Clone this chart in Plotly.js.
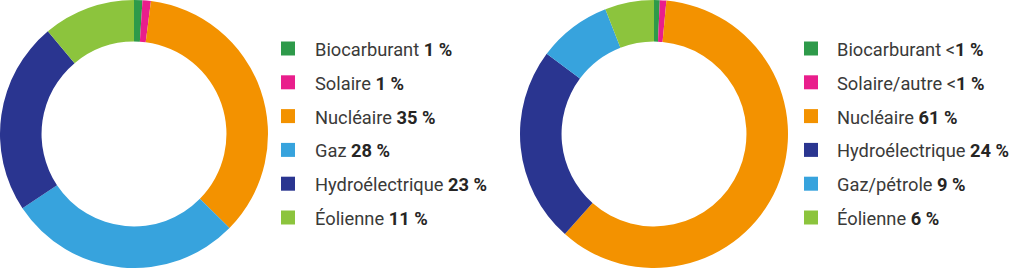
<!DOCTYPE html>
<html>
<head>
<meta charset="utf-8">
<script src="https://cdn.plot.ly/plotly-3.0.1.min.js"></script>
<style>
  html, body { margin: 0; padding: 0; background: #ffffff; }
  #chart { width: 1024px; height: 268px; }
</style>
</head>
<body>
<div id="chart"></div>
<script>
// ---- Data ----
const labelsLeft = ['Biocarburant', 'Solaire', 'Nucléaire', 'Gaz', 'Hydroélectrique', 'Éolienne'];
const valuesLeft = [1, 1, 35, 28, 23, 11];
const pctLeft = ['1 %', '1 %', '35 %', '28 %', '23 %', '11 %'];

const labelsRight = ['Biocarburant', 'Solaire/autre', 'Nucléaire', 'Hydroélectrique', 'Gaz/pétrole', 'Éolienne'];
const valuesRight = [0.7, 0.8, 61, 24, 9, 6];
const pctRight = ['<1 %', '<1 %', '61 %', '24 %', '9 %', '6 %'];

// ---- Styles ----
const C = {
  bio: '#2e9a4a', sol: '#e91e8c', nuc: '#f39200', gaz: '#37a3dd', hyd: '#2a3590', eol: '#8cc43d'
};
const colorsLeft = [C.bio, C.sol, C.nuc, C.gaz, C.hyd, C.eol];
const colorsRight = [C.bio, C.sol, C.nuc, C.hyd, C.gaz, C.eol];

const W = 1024, H = 268;
const FONT = 'Roboto, "Open Sans", sans-serif';
const TEXT_COLOR = '#3a3a39';
const BOLD_COLOR = '#262524';

function pie(labels, values, colors, x0, x1) {
  return {
    type: 'pie',
    labels: labels,
    values: values,
    marker: { colors: colors, line: { width: 0 } },
    hole: 0.69,
    sort: false,
    direction: 'clockwise',
    rotation: 0,
    textinfo: 'none',
    hoverinfo: 'label+percent',
    showlegend: false,
    domain: { x: [x0 / W, x1 / W], y: [0, 1] }
  };
}

function legendItems(labels, pcts, colors, sqX, txtX) {
  const rowY0 = 48.5, rowStep = 33.8, sq = 14;
  const shapes = [], annotations = [];
  labels.forEach((lab, i) => {
    const cy = rowY0 + i * rowStep;
    shapes.push({
      type: 'rect', xref: 'paper', yref: 'paper',
      x0: sqX / W, x1: (sqX + sq) / W,
      y0: 1 - (cy + sq / 2) / H, y1: 1 - (cy - sq / 2) / H,
      fillcolor: colors[i], line: { width: 0 }
    });
    let p = pcts[i];
    let pre = '';
    if (p.startsWith('<')) { pre = '&lt;'; p = p.slice(1); }
    annotations.push({
      xref: 'paper', yref: 'paper',
      x: txtX / W, y: 1 - (cy + 1) / H,
      xanchor: 'left', yanchor: 'middle',
      showarrow: false, borderpad: 0,
      text: lab + ' ' + pre + '<span style="color:' + BOLD_COLOR + '"><b>' + p + '</b></span>',
      font: { family: FONT, size: 18.3, color: TEXT_COLOR }
    });
  });
  return { shapes, annotations };
}

const legL = legendItems(labelsLeft, pctLeft, colorsLeft, 281, 314);
const legR = legendItems(labelsRight, pctRight, colorsRight, 804, 836);

const data = [
  pie(labelsLeft, valuesLeft, colorsLeft, 0, 268),
  pie(labelsRight, valuesRight, colorsRight, 520, 788)
];

const layout = {
  width: W, height: H,
  margin: { l: 0, r: 0, t: 0, b: 0, pad: 0 },
  paper_bgcolor: '#ffffff',
  plot_bgcolor: '#ffffff',
  showlegend: false,
  shapes: legL.shapes.concat(legR.shapes),
  annotations: legL.annotations.concat(legR.annotations),
  font: { family: FONT, color: TEXT_COLOR }
};

Plotly.newPlot('chart', data, layout, { displayModeBar: false });
</script>
</body>
</html>
